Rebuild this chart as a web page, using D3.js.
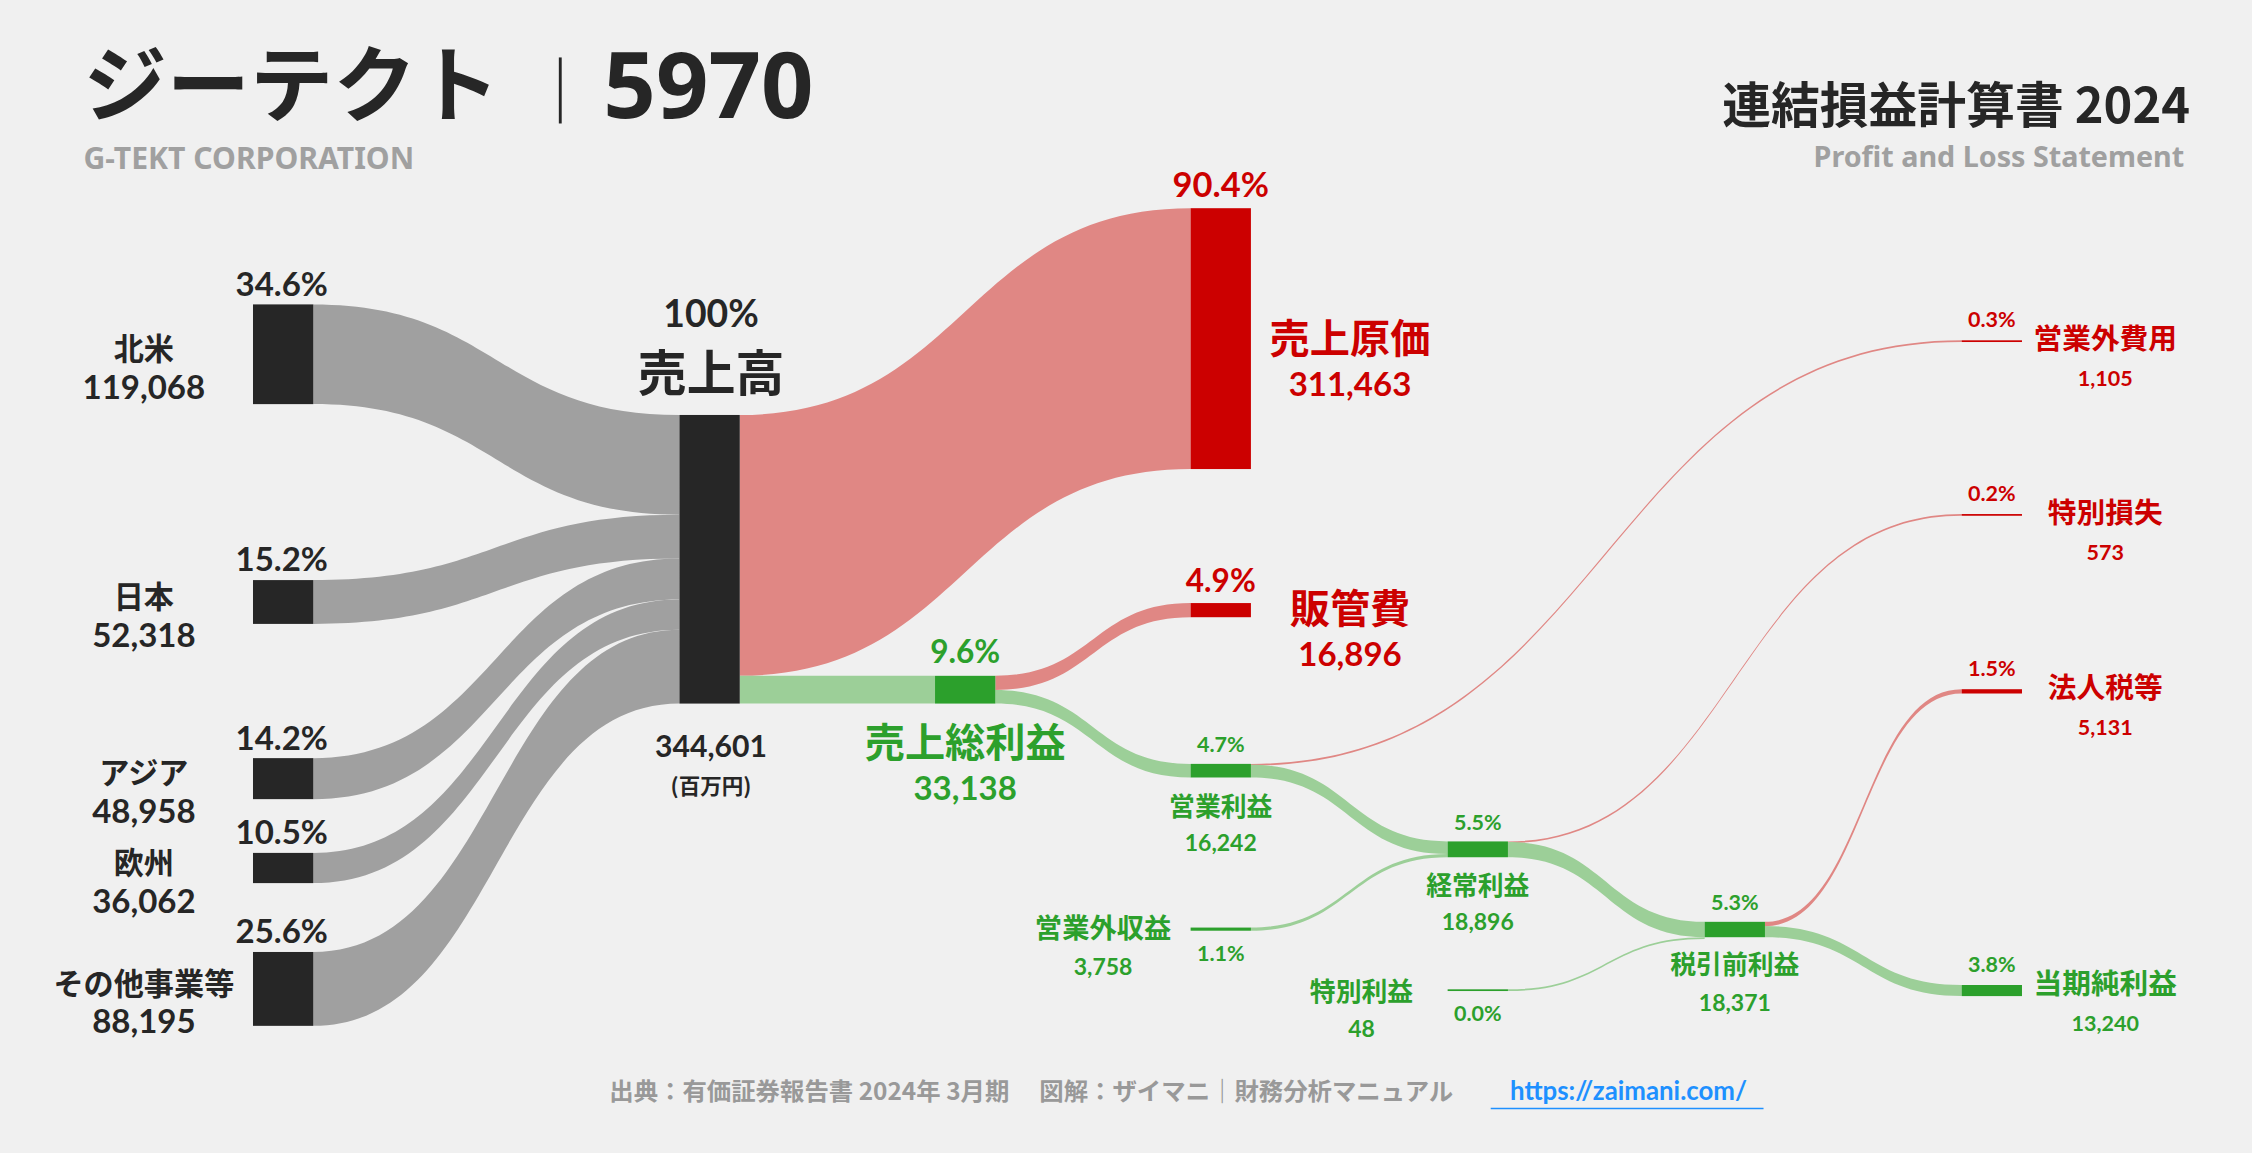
<!DOCTYPE html>
<html><head><meta charset="utf-8">
<script src="https://cdn.jsdelivr.net/npm/d3@7"></script>
<style>
html,body{margin:0;padding:0;background:#f0f0f0;}
text{font-family:"Noto Sans CJK JP","Noto Sans",sans-serif;font-weight:700;}
.num{font-family:Lato,"Noto Sans",sans-serif;}
.wide{font-family:"Noto Sans","Noto Sans CJK JP",sans-serif;}
</style></head>
<body>
<svg id="chart"></svg>
<script>
// segment revenue (百万円)
const segNames = ["北米", "日本", "アジア", "欧州", "その他事業等"];
const segValues = [119068, 52318, 48958, 36062, 88195];
const segPct = ["34.6%", "15.2%", "14.2%", "10.5%", "25.6%"];
const segTop = [212, 404, 528, 594, 663]; // layout

const revenue = 344601;
const costOfSales = 311463, grossProfit = 33138, sga = 16896, opProfit = 16242;
const nonOpIncome = 3758, nonOpExpense = 1105, ordinaryProfit = 18896;
const extraGain = 48, extraLoss = 573, pretaxProfit = 18371, tax = 5131, netProfit = 13240;

const W = 1568, H = 803;
const svg = d3.select("#chart").attr("width", 2252).attr("height", 1153)
  .attr("viewBox", `0 0 ${W} ${H}`);
svg.append("rect").attr("width", W).attr("height", H).attr("fill", "#f0f0f0");

const h = d3.scaleLinear().domain([0, revenue]).range([0, 201]);
const hh = v => Math.max(h(v), 1.2);
const fmt = d3.format(",");
const NW = 42;
const DARK = "#262626", RED = "#cc0000", GREEN = "#2ca02c";
const LGRAY = "#a0a0a0", LRED = "#e08784", LGREEN = "#9ccf98";

function band(x0, a0, x1, a1, w, color, op) {
  // a0, a1 = top y at source and target
  const mx = (x0 + x1) / 2;
  const p = d3.path();
  p.moveTo(x0, a0);
  p.bezierCurveTo(mx, a0, mx, a1, x1, a1);
  p.lineTo(x1, a1 + w);
  p.bezierCurveTo(mx, a1 + w, mx, a0 + w, x0, a0 + w);
  p.closePath();
  svg.append("path").attr("d", p.toString()).attr("fill", color).attr("opacity", op || 1);
}
function node(x, y, v, color) {
  svg.append("rect").attr("x", x).attr("y", y).attr("width", NW).attr("height", hh(v)).attr("fill", color);
}
function label(x, y, t, size, color, anchor, cls) {
  svg.append("text").attr("x", x).attr("y", y).attr("font-size", size).attr("fill", color)
    .attr("text-anchor", anchor || "middle").attr("class", cls || null).text(t);
}

// positions
const revX = 473, revY = 289;
const costX = 829, costY = 145;
const sgaY = 420;
const gpX = 651, gpY = revY + h(costOfSales);
const opX = 829, opY = 532;
const noiX = 829, noiY = 646;
const ordX = 1008, ordY = 586;
const exgX = 1008, exgY = 689;
const preX = 1187, preY = 642;
const rX = 1366;
const noeY = 237, exlY = 358, taxY = 480, netY = 686;

// segment links + nodes
let acc = revY;
segValues.forEach((v, i) => {
  band(176 + NW, segTop[i], revX, acc, h(v), LGRAY);
  acc += h(v);
});
segValues.forEach((v, i) => {
  node(176, segTop[i], v, DARK);
  label(196, segTop[i] - 6, segPct[i], 23, DARK, "middle", "num");
  label(100, segTop[i] + hh(v) / 2 + 4, segNames[i], 21, DARK);
  label(100, segTop[i] + hh(v) / 2 + 31, fmt(v), 23, DARK, "middle", "num");
});

// revenue -> cost / gross
band(revX + NW, revY, costX, costY, h(costOfSales), LRED);
band(revX + NW, gpY, gpX, gpY, h(grossProfit), LGREEN);
band(gpX + NW, gpY, costX, sgaY, h(sga), LRED);
band(gpX + NW, gpY + h(sga), opX, opY, h(opProfit), LGREEN);
band(opX + NW, opY, rX, noeY, hh(nonOpExpense), LRED);
band(opX + NW, opY + h(nonOpExpense), ordX, ordY, h(opProfit - nonOpExpense), LGREEN);
band(noiX + NW, noiY, ordX, ordY + h(opProfit - nonOpExpense), h(nonOpIncome), LGREEN);
band(ordX + NW, ordY, rX, exlY, hh(extraLoss), LRED);
band(ordX + NW, ordY + h(extraLoss), preX, preY, h(ordinaryProfit - extraLoss), LGREEN);
band(exgX + NW, exgY, preX, preY + h(ordinaryProfit - extraLoss), hh(extraGain), LGREEN);
band(preX + NW, preY, rX, taxY, h(tax), LRED);
band(preX + NW, preY + h(tax), rX, netY, h(netProfit), LGREEN);

node(revX, revY, revenue, DARK);
node(costX, costY, costOfSales, RED);
node(costX, sgaY, sga, RED);
node(gpX, gpY, grossProfit, GREEN);
node(opX, opY, opProfit, GREEN);
node(noiX, noiY, nonOpIncome, GREEN);
node(ordX, ordY, ordinaryProfit, GREEN);
node(exgX, exgY, extraGain, GREEN);
node(preX, preY, pretaxProfit, GREEN);
node(rX, noeY, nonOpExpense, RED);
node(rX, exlY, extraLoss, RED);
node(rX, taxY, tax, RED);
node(rX, netY, netProfit, GREEN);

// labels
label(495, 228, "100%", 26, DARK, "middle", "num");
label(495, 272, "売上高", 34, DARK);
label(495, 527, fmt(revenue), 21, DARK, "middle", "num");
label(495, 553, "(百万円)", 15, DARK);

label(850, 137, "90.4%", 24, RED, "middle", "num");
label(940, 246, "売上原価", 28, RED);
label(940, 276, fmt(costOfSales), 23, RED, "middle", "num");
label(850, 412, "4.9%", 22, RED, "middle", "num");
label(940, 434, "販管費", 28, RED);
label(940, 464, fmt(sga), 23, RED, "middle", "num");
label(672, 462, "9.6%", 22, GREEN, "middle", "num");
label(672, 527, "売上総利益", 28, GREEN);
label(672, 557, fmt(grossProfit), 23, GREEN, "middle", "num");

label(850, 524, "4.7%", 15, GREEN, "middle", "num");
label(850, 568, "営業利益", 18, GREEN);
label(850, 593, fmt(opProfit), 16, GREEN, "middle", "num");
label(768, 653, "営業外収益", 19, GREEN);
label(768, 679, fmt(nonOpIncome), 16, GREEN, "middle", "num");
label(850, 669, "1.1%", 15, GREEN, "middle", "num");
label(1029, 578, "5.5%", 15, GREEN, "middle", "num");
label(1029, 623, "経常利益", 18, GREEN);
label(1029, 648, fmt(ordinaryProfit), 16, GREEN, "middle", "num");
label(948, 697, "特別利益", 18, GREEN);
label(948, 722, fmt(extraGain), 16, GREEN, "middle", "num");
label(1029, 711, "0.0%", 15, GREEN, "middle", "num");
label(1208, 634, "5.3%", 15, GREEN, "middle", "num");
label(1208, 678, "税引前利益", 18, GREEN);
label(1208, 704, fmt(pretaxProfit), 16, GREEN, "middle", "num");

const right = [
  ["営業外費用", nonOpExpense, "0.3%", noeY, RED],
  ["特別損失", extraLoss, "0.2%", exlY, RED],
  ["法人税等", tax, "1.5%", taxY, RED],
  ["当期純利益", netProfit, "3.8%", netY, GREEN]
];
right.forEach(([n, v, p, y, c]) => {
  label(1387, y - 9, p, 15, c, "middle", "num");
  label(1466, y + 6, n, 20, c);
  label(1466, y + 32, fmt(v), 15, c, "middle", "num");
});

// titles
label(58, 80, "ジーテクト", 58, DARK, "start");
svg.append("line").attr("x1", 390).attr("x2", 390).attr("y1", 40).attr("y2", 86)
  .attr("stroke", DARK).attr("stroke-width", 2);
label(420, 82, "5970", 64, DARK, "start", "wide");
label(58, 118, "G-TEKT CORPORATION", 21, LGRAY, "start", "wide");
label(1525, 86, "連結損益計算書 2024", 34, DARK, "end");
label(1521, 116, "Profit and Loss Statement", 20, LGRAY, "end", "wide");

// footer
label(718, 766, "出典：有価証券報告書 2024年 3月期　 図解：ザイマニ｜財務分析マニュアル", 17, "#999", "middle");
label(1134, 766, "https://zaimani.com/", 18, "#1e90ff", "middle", "num");
svg.append("line").attr("x1", 1038).attr("x2", 1228).attr("y1", 772).attr("y2", 772)
  .attr("stroke", "#1e90ff").attr("stroke-width", 1.2);
</script>
</body></html>
